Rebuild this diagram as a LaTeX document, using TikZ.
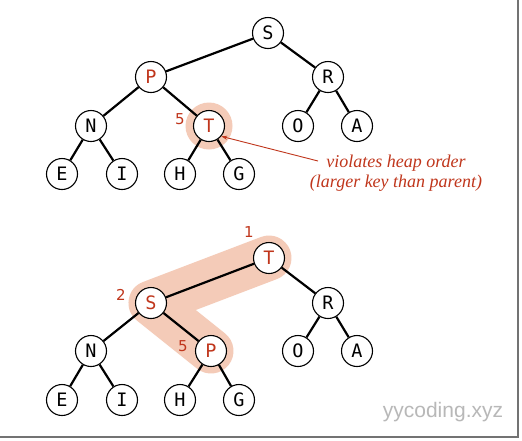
\documentclass[tikz,border=0pt]{standalone}
\usepackage{fontspec}
\newfontfamily\keyfont{DejaVu Sans Mono}
\newfontfamily\wmfont{Liberation Sans}
\newfontfamily\idxfont{DejaVu Sans}
\setmainfont{Liberation Serif}
\usetikzlibrary{arrows.meta}
\definecolor{halo}{HTML}{F4CBB8}
\definecolor{redk}{HTML}{C0361C}
\tikzset{
  key/.style={circle,draw=black,line width=1.1pt,fill=white,minimum size=31pt,inner sep=0pt,font=\keyfont\fontsize{18.5}{18.5}\selectfont},
  redkey/.style={key,text=redk},
  edge/.style={line width=2.2pt,black},
  idx/.style={text=redk,font=\idxfont\fontsize{15}{15}\selectfont,inner sep=0pt},
}
\begin{document}
\begin{tikzpicture}[x=1pt,y=-1pt]
\useasboundingbox (0,0) rectangle (522,440);
\fill[white] (0,0) rectangle (522,440);
% frame shadow
\draw[line width=2pt,black!55] (518,0) -- (518,437) -- (0,437);
% ---------- top tree ----------
\fill[halo] (209,126) circle (23.5);
\node[key] (s1) at (268,33) {S};
\node[redkey] (p1) at (151,77) {P};
\node[key] (r1) at (328,77) {R};
\node[key] (n1) at (91,126) {N};
\node[redkey] (t1) at (209,126) {T};
\node[key] (o1) at (298,126) {O};
\node[key] (a1) at (357,126) {A};
\node[key] (e1) at (62,174) {E};
\node[key] (i1) at (122,174) {I};
\node[key] (h1) at (180,174) {H};
\node[key] (g1) at (239,174) {G};
\draw[edge] (s1) -- (p1);
\draw[edge] (s1) -- (r1);
\draw[edge] (p1) -- (n1);
\draw[edge] (p1) -- (t1);
\draw[edge] (r1) -- (o1);
\draw[edge] (r1) -- (a1);
\draw[edge] (n1) -- (e1);
\draw[edge] (n1) -- (i1);
\draw[edge] (t1) -- (h1);
\draw[edge] (t1) -- (g1);
\node[idx] (l5a) at (180,119) {5};
\node[text=redk,font=\itshape\fontsize{18}{20.5}\selectfont,align=center,inner sep=0pt] (note) at (396,173) {violates heap order\\(larger key than parent)};
\coordinate (nstart) at (318,161);
\draw[-{Stealth[length=6pt,width=4pt]},redk,line width=0.9pt] (nstart) -- (t1.-40);
% ---------- bottom tree ----------
\coordinate (bt) at (269,258);
\coordinate (bs) at (151,303);
\coordinate (bp) at (211,351);
\draw[halo,line width=45pt,line cap=round,line join=round] (bt) -- (bs) -- (bp);
\node[redkey] (t2) at (bt) {T};
\node[redkey] (s2) at (bs) {S};
\node[key] (r2) at (328,303) {R};
\node[key] (n2) at (91,351) {N};
\node[redkey] (p2) at (bp) {P};
\node[key] (o2) at (298,351) {O};
\node[key] (a2) at (357,351) {A};
\node[key] (e2) at (62,400) {E};
\node[key] (i2) at (122,400) {I};
\node[key] (h2) at (180,400) {H};
\node[key] (g2) at (239,400) {G};
\draw[edge] (t2) -- (s2);
\draw[edge] (t2) -- (r2);
\draw[edge] (s2) -- (n2);
\draw[edge] (s2) -- (p2);
\draw[edge] (r2) -- (o2);
\draw[edge] (r2) -- (a2);
\draw[edge] (n2) -- (e2);
\draw[edge] (n2) -- (i2);
\draw[edge] (p2) -- (h2);
\draw[edge] (p2) -- (g2);
\node[idx] (l1) at (249,232) {1};
\node[idx] (l2) at (121,295) {2};
\node[idx] (l5b) at (183,346) {5};
\node[text=black!28,font=\wmfont\fontsize{21}{21}\selectfont,inner sep=0pt] (wm) at (443,412) {yycoding.xyz};
\end{tikzpicture}
\end{document}
